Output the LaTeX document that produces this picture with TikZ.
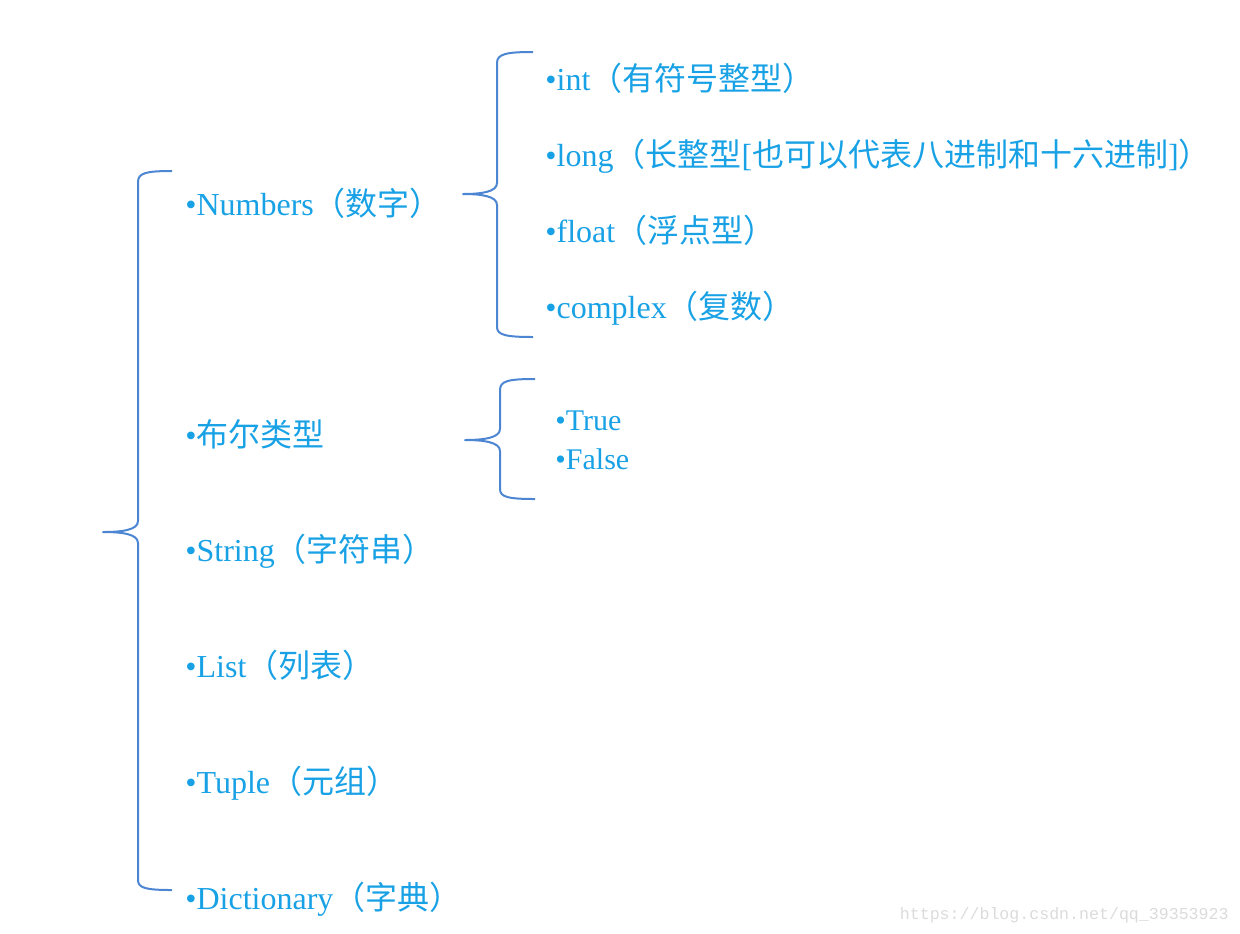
\documentclass[tikz,border=0pt]{standalone}
\usepackage{fontspec}
\setmainfont{Liberation Serif}
\newfontfamily\zhfont{Noto Sans CJK SC}
\newfontfamily\urlfont{Liberation Mono}
\newcommand{\zh}[1]{{\zhfont #1}}
\usepackage{tikz}
\usetikzlibrary{positioning}
\definecolor{itemblue}{RGB}{24,161,229}
\definecolor{braceblue}{RGB}{76,134,210}
\tikzset{
	x=0.5pt, y=-0.5pt, % one unit is one pixel of the reference
	item/.style={anchor=base west, inner sep=0pt, text=itemblue, font=\fontsize{16}{19}\selectfont}, % every entry of the lists
	small item/.style={item, font=\fontsize{15}{18}\selectfont}, % entries of the second brace
	brace/.style={draw=braceblue, line width=1pt, line join=round}, % the curly brackets
}
\begin{document}
\begin{tikzpicture}
	\useasboundingbox (0,0) rectangle (1240,933);
	% first level
	\node[item] (num) at (185,215) {•Numbers\zh{（数字）}};
	\node[item] (bool) at (185,446) {•\zh{布尔类型}};
	\node[item] (str) at (185,561) {•String\zh{（字符串）}};
	\node[item] (list) at (185,677) {•List\zh{（列表）}};
	\node[item] (tuple) at (185,793) {•Tuple\zh{（元组）}};
	\node[item] (dict) at (185,909) {•Dictionary\zh{（字典）}};
	% second level
	\node[item] (int) at (545,90) {•int\zh{（有符号整型）}};
	\node[item] (long) at (545,166) {•long\zh{（长整型}[\zh{也可以代表八进制和十六进制}]\zh{）}};
	\node[item] (float) at (545,242) {•float\zh{（浮点型）}};
	\node[item] (cplx) at (545,318) {•complex\zh{（复数）}};
	\node[small item] (true) at (555,430) {•True};
	\node[small item] (false) at (555,469) {•False};
	% brackets
	\coordinate (tip0) at (103,532);
	\coordinate (tip1) at (463,194);
	\coordinate (tip2) at (465,440);
	\draw[brace] (172,171) .. controls (146,171) and (138,173) .. (138,182)
		-- (138,521) .. controls (138,530) and (122,532) .. (tip0)
		.. controls (122,532) and (138,534) .. (138,543)
		-- (138,880) .. controls (138,888) and (146,890) .. (172,890);
	\draw[brace] (533,52) .. controls (506,52) and (497,54) .. (497,63)
		-- (497,183) .. controls (497,192) and (481,194) .. (tip1)
		.. controls (481,194) and (497,196) .. (497,205)
		-- (497,327) .. controls (497,335) and (506,337) .. (533,337);
	\draw[brace] (535,379) .. controls (508,379) and (500,381) .. (500,390)
		-- (500,429) .. controls (500,438) and (483,440) .. (tip2)
		.. controls (483,440) and (500,442) .. (500,451)
		-- (500,489) .. controls (500,497) and (508,499) .. (535,499);
	% watermark
	\node[anchor=base east, inner sep=0pt, text=black!14, font=\urlfont\fontsize{8.3}{10}\selectfont] (mark) at (1229,919) {https://blog.csdn.net/qq\_39353923};
\end{tikzpicture}
\end{document}
